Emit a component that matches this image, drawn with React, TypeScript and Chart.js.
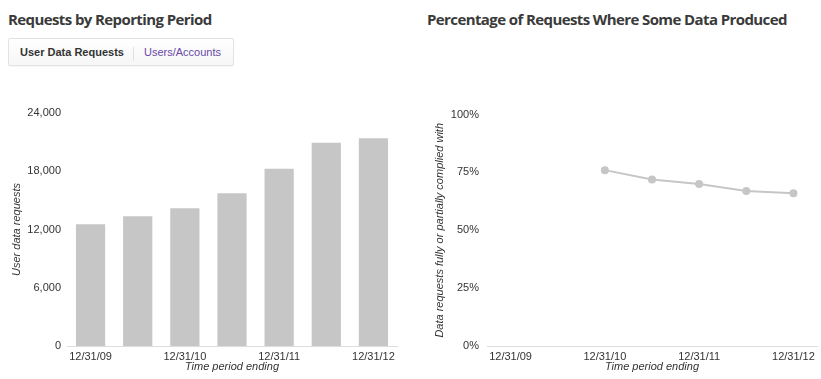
import React, { useEffect, useRef } from "react";
import { Chart, registerables } from "chart.js";

Chart.register(...registerables);

const periods = ["12/31/09", "6/30/10", "12/31/10", "6/30/11", "12/31/11", "6/30/12", "12/31/12"];
const requests = [12539, 13352, 14201, 15746, 18257, 20938, 21389];
const producedPct = [null, null, 76, 72, 70, 67, 66];
const leftTicks = [0, 6000, 12000, 18000, 24000];
const rightTicks = [0, 25, 50, 75, 100];

const FONT = "Helvetica, Arial, 'Liberation Sans', sans-serif";
const GRAY = "#c6c6c6";

function xAxis() {
  return {
    type: "category" as const,
    offset: true,
    grid: { display: false, drawTicks: false },
    border: { display: true, color: "#dddddd", width: 1 },
    ticks: {
      autoSkip: false,
      maxRotation: 0,
      padding: 4,
      color: "#333",
      font: { family: FONT, size: 11 },
      callback: (_v: any, i: number) => (i % 2 === 0 ? periods[i] : ""),
    },
    title: {
      display: true,
      text: "Time period ending",
      color: "#333",
      font: { family: FONT, size: 11, style: "italic" as const },
      padding: { top: 0, bottom: 5 },
    },
    afterFit: (s: any) => {
      s.height = 33;
    },
  };
}

function BarChart() {
  const ref = useRef<HTMLCanvasElement>(null);
  useEffect(() => {
    const chart = new Chart(ref.current!, {
      type: "bar",
      data: {
        labels: periods,
        datasets: [
          {
            data: requests,
            backgroundColor: GRAY,
            barPercentage: 0.62,
            categoryPercentage: 1,
          },
        ],
      },
      options: {
        animation: false,
        responsive: false,
        maintainAspectRatio: false,
        layout: { padding: { top: 13, left: 0, right: 8, bottom: 0 } },
        plugins: { legend: { display: false }, tooltip: { enabled: false } },
        scales: {
          x: xAxis(),
          y: {
            min: 0,
            max: 24000,
            afterBuildTicks: (s: any) => {
              s.ticks = leftTicks.map((v) => ({ value: v }));
            },
            grid: { display: false, drawTicks: false },
            border: { display: false },
            ticks: {
              padding: 6,
              color: "#333",
              font: { family: FONT, size: 11 },
              callback: (v: any) => Number(v).toLocaleString("en-US"),
            },
            title: {
              display: true,
              text: "User data requests",
              color: "#333",
              font: { family: FONT, size: 11, style: "italic" },
              padding: { top: 10, bottom: 0 },
            },
            afterFit: (s: any) => {
              s.width = 67;
            },
          },
        },
      },
    });
    return () => chart.destroy();
  }, []);
  return <canvas ref={ref} width={405} height={279} style={{ position: "absolute", left: 0, top: 100 }} />;
}

function LineChart() {
  const ref = useRef<HTMLCanvasElement>(null);
  useEffect(() => {
    const chart = new Chart(ref.current!, {
      type: "line",
      data: {
        labels: periods,
        datasets: [
          {
            data: producedPct,
            borderColor: GRAY,
            backgroundColor: GRAY,
            borderWidth: 2,
            pointRadius: 4,
            pointBorderWidth: 0,
            pointBackgroundColor: GRAY,
            tension: 0,
          },
        ],
      },
      options: {
        animation: false,
        responsive: false,
        maintainAspectRatio: false,
        layout: { padding: { top: 13, left: 0, right: 3, bottom: 0 } },
        plugins: { legend: { display: false }, tooltip: { enabled: false } },
        scales: {
          x: xAxis(),
          y: {
            min: 0,
            max: 100,
            afterBuildTicks: (s: any) => {
              s.ticks = rightTicks.map((v) => ({ value: v }));
            },
            grid: { display: false, drawTicks: false },
            border: { display: false },
            ticks: {
              padding: 8,
              color: "#333",
              font: { family: FONT, size: 11 },
              callback: (v: any) => v + "%",
            },
            title: {
              display: true,
              text: "Data requests fully or partially complied with",
              color: "#333",
              font: { family: FONT, size: 11, style: "italic" },
              padding: { top: 23, bottom: 0 },
            },
            afterFit: (s: any) => {
              s.width = 77;
            },
          },
        },
      },
    });
    return () => chart.destroy();
  }, []);
  return <canvas ref={ref} width={411} height={279} style={{ position: "absolute", left: 410, top: 100 }} />;
}

export default function App() {
  const titleStyle: React.CSSProperties = {
    position: "absolute",
    top: 8,
    margin: 0,
    fontFamily: "'Open Sans', sans-serif",
    fontWeight: 700,
    fontSize: 15,
    letterSpacing: "-0.6px",
    lineHeight: "22px",
    color: "#3a3a3a",
    whiteSpace: "nowrap",
  };
  return (
    <div style={{ position: "absolute", left: 0, top: 0, width: 821, height: 379, background: "#fff", overflow: "hidden" }}>
      <div style={{ ...titleStyle, left: 8 }}>Requests by Reporting Period</div>
      <div style={{ ...titleStyle, left: 427 }}>Percentage of Requests Where Some Data Produced</div>
      <div
        style={{
          position: "absolute",
          left: 8,
          top: 38,
          width: 224,
          height: 26,
          border: "1px solid #e3e3e3",
          borderRadius: 2,
          background: "linear-gradient(#ffffff, #f6f6f6)",
          boxShadow: "0 1px 1px rgba(0,0,0,0.04)",
          fontFamily: FONT,
          fontSize: 11,
          lineHeight: "26px",
        }}
      >
        <span style={{ position: "absolute", left: 11, fontWeight: 700, color: "#333" }}>User Data Requests</span>
        <span style={{ position: "absolute", left: 124, top: 8, width: 1, height: 14, background: "#e0e0e0" }} />
        <span style={{ position: "absolute", left: 135, color: "#6a47a8" }}>Users/Accounts</span>
      </div>
      <BarChart />
      <LineChart />
    </div>
  );
}
